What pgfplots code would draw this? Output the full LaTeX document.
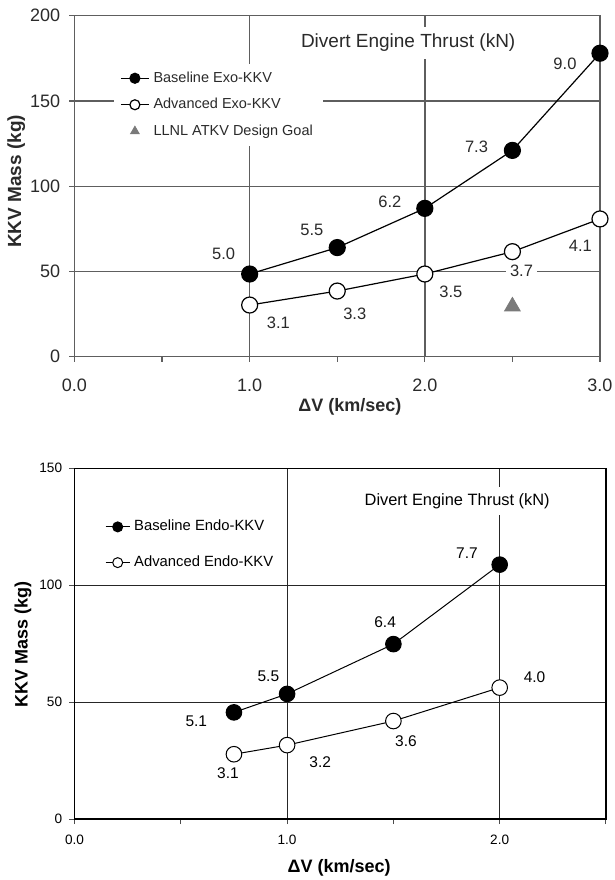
\documentclass[border=0pt]{standalone}
\usepackage{pgfplots}
\pgfplotsset{compat=1.18}
\usepackage{fontspec}
\setmainfont{Liberation Sans}
\definecolor{topgray}{HTML}{5E5E5E}
\definecolor{tritri}{HTML}{7A7A7A}
\definecolor{toptext}{HTML}{2A2A2A}

\pgfplotstableread{
x y
1.0 48.5
1.5 64
2.0 87
2.5 121
3.0 178
}\exobase
\pgfplotstableread{
x y
1.0 30.3
1.5 38.5
2.0 48.5
2.5 61.6
3.0 80.8
}\exoadv
\pgfplotstableread{
x y
2.5 29.5
}\llnl
\pgfplotstableread{
x y l
0.851 60.2 5.0
1.355 74.3 5.5
1.80 90.9 6.2
2.295 123.2 7.3
2.80 172.0 9.0
1.164 19.6 3.1
1.60 25.4 3.3
2.149 37.8 3.5
2.552 50.4 3.7
2.888 64.9 4.1
}\exolabels

\pgfplotstableread{
x y
0.75 45.6
1.0 53.5
1.5 74.8
2.0 108.8
}\endobase
\pgfplotstableread{
x y
0.75 27.7
1.0 31.6
1.5 41.9
2.0 56.2
}\endoadv
\pgfplotstableread{
x y l
0.573 41.6 5.1
0.912 60.9 5.5
1.461 84.0 6.4
1.846 113.6 7.7
0.722 19.5 3.1
1.156 24.1 3.2
1.559 33.4 3.6
2.164 60.6 4.0
}\endolabels

\begin{document}
\begin{tikzpicture}
\path[use as bounding box] (0,0) rectangle (307.5pt,440pt);

% ---------------- Top chart ----------------
\begin{axis}[
  at={(37.25pt,261.65pt)}, anchor=south west,
  scale only axis, width=262.75pt, height=170.5pt,
  xmin=0, xmax=3, ymin=0, ymax=200,
  xtick={0,1,2,3}, minor xtick={0.5,1.5,2.5},
  ytick={0,50,100,150,200},
  xticklabels={0.0,1.0,2.0,3.0},
  xtick pos=bottom, ytick pos=left,
  grid=major,
  major grid style={topgray, line width=0.7pt},
  axis line style={topgray, line width=0.7pt},
  tick style={topgray, line width=0.6pt},
  tick align=outside, major tick length=2.5pt, minor tick length=2.5pt,
  /pgf/number format/assume math mode=true,
  ticklabel style={font=\fontsize{9pt}{10pt}\selectfont, text=toptext},
  yticklabel style={anchor=east, inner sep=0pt, xshift=-4.5pt},
  xticklabel style={anchor=north, inner sep=0pt, yshift=-8.5pt},
  xlabel={\bfseries ΔV (km/sec)},
  ylabel={\bfseries KKV Mass (kg)},
  xlabel style={at={(axis description cs:0.524,0)}, anchor=center, yshift=-25pt, font=\fontsize{9pt}{10pt}\selectfont, text=toptext},
  ylabel style={at={(axis description cs:-0.111,0.514)}, anchor=center, font=\fontsize{9.5pt}{10pt}\selectfont, text=toptext},
  legend style={at={(axis description cs:0.075,0.861)}, anchor=north west,
    draw=none, fill=white, font=\fontsize{7.25pt}{8pt}\selectfont, text=toptext,
    inner xsep=3pt, inner ysep=2pt, row sep=2.5pt},
  legend cell align=left,
  legend image code/.code={\draw[mark repeat=2,mark phase=2,#1,mark size=2.5pt] plot coordinates {(0pt,0pt) (7pt,0pt) (14pt,0pt)};},
]
\addplot[black, line width=0.6pt, mark=*, mark size=4pt, mark options={fill=black}] table {\exobase};
\addlegendentry{Baseline Exo-KKV}
\addplot[black, line width=0.6pt, mark=*, mark size=4pt, mark options={fill=white, draw=black, line width=0.6pt}] table {\exoadv};
\addlegendentry{Advanced Exo-KKV}
\addplot[only marks, mark=triangle*, mark size=4.5pt, mark options={fill=tritri, draw=tritri}] table {\llnl};
\addlegendentry{LLNL ATKV Design Goal}
\addplot[forget plot, draw=none, mark=none, nodes near coords, point meta=explicit symbolic,
  nodes near coords align=center,
  every node near coord/.style={anchor=center, fill=white, inner xsep=2pt, inner ysep=1.5pt,
    text=toptext, font=\fontsize{8.25pt}{9pt}\selectfont}] table[meta=l] {\exolabels};
\node[fill=white, text=toptext, inner xsep=3pt, inner ysep=3.5pt, font=\fontsize{9.5pt}{10pt}\selectfont]
  at (axis description cs:0.635,0.920) {Divert Engine Thrust (kN)};
\end{axis}

% ---------------- Bottom chart ----------------
\begin{axis}[
  at={(37.25pt,30.5pt)}, anchor=south west,
  scale only axis, width=265.75pt, height=175.35pt,
  xmin=0, xmax=2.5, ymin=0, ymax=150,
  xtick={0,1,2}, minor xtick={0.5,1.5,2.5},
  ytick={0,50,100,150},
  xticklabels={0.0,1.0,2.0},
  xtick pos=bottom, ytick pos=left,
  grid=major,
  major grid style={black!85, line width=0.5pt},
  axis line style={black, line width=0.6pt},
  tick style={black!70, line width=0.5pt},
  tick align=outside, major tick length=2.5pt, minor tick length=2.5pt,
  /pgf/number format/assume math mode=true,
  ticklabel style={font=\fontsize{6.8pt}{7pt}\selectfont},
  yticklabel style={anchor=east, inner sep=0pt, xshift=-3.5pt},
  xticklabel style={anchor=north, inner sep=0pt, yshift=-5.5pt},
  xlabel={\bfseries ΔV (km/sec)},
  ylabel={\bfseries KKV Mass (kg)},
  xlabel style={at={(axis description cs:0.498,0)}, anchor=center, yshift=-24.5pt, font=\fontsize{9pt}{10pt}\selectfont},
  ylabel style={at={(axis description cs:-0.097,0.499)}, anchor=center, font=\fontsize{9pt}{10pt}\selectfont},
  legend style={at={(axis description cs:0.057,0.865)}, anchor=north west,
    draw=none, fill=white, font=\fontsize{7.4pt}{8pt}\selectfont,
    inner xsep=0pt, inner ysep=0pt, row sep=7pt},
  legend cell align=left,
  legend image code/.code={\draw[mark repeat=2,mark phase=2,#1,mark size=2.5pt] plot coordinates {(0pt,0pt) (6pt,0pt) (12pt,0pt)};},
]
\addplot[black, line width=0.5pt, mark=*, mark size=3.9pt, mark options={fill=black}] table {\endobase};
\addlegendentry{Baseline Endo-KKV}
\addplot[black, line width=0.5pt, mark=*, mark size=3.9pt, mark options={fill=white, draw=black, line width=0.5pt}] table {\endoadv};
\addlegendentry{Advanced Endo-KKV}
\addplot[forget plot, draw=none, mark=none, nodes near coords, point meta=explicit symbolic,
  nodes near coords align=center,
  every node near coord/.style={anchor=center, inner sep=1pt,
    font=\fontsize{7.75pt}{8.5pt}\selectfont}] table[meta=l] {\endolabels};
\node[fill=white, inner xsep=2pt, inner ysep=3pt, font=\fontsize{8.2pt}{9pt}\selectfont]
  at (axis description cs:0.72,0.907) {Divert Engine Thrust (kN)};
\end{axis}
\end{tikzpicture}
\end{document}
